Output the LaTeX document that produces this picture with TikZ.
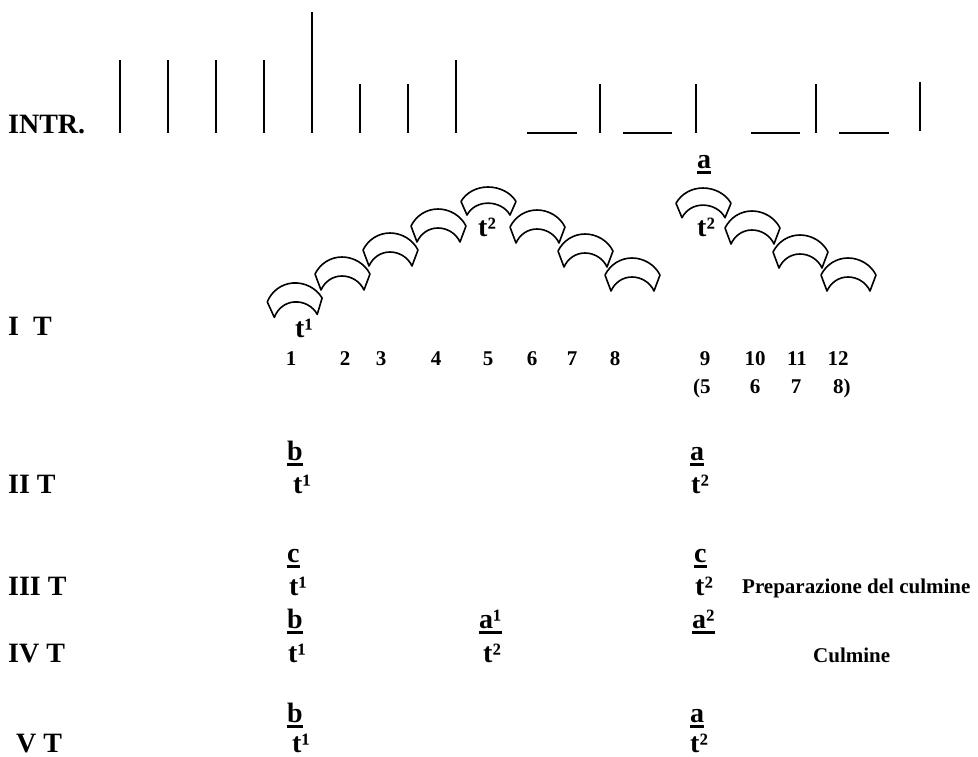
\documentclass[tikz,border=0pt]{standalone}
\usepackage{fontspec}
\setmainfont{Liberation Serif}
\newcommand\ulx[1]{\setbox0=\hbox{#1}\rlap{\rule[-5.5pt]{\wd0}{2.5pt}}\box0}
\tikzset{
  big/.style={font=\fontsize{28}{30}\selectfont\bfseries, inner sep=0pt, anchor=base west},
  small/.style={font=\fontsize{21}{24}\selectfont\bfseries, inner sep=0pt, anchor=base west},
  num/.style={font=\fontsize{21}{24}\selectfont\bfseries, inner sep=0pt, anchor=base},
  bar/.style={line width=2pt},
  arcband/.pic={\draw[line width=1.6pt, line join=round]
     (-27,17) .. controls (-21.8,6.6) and (-11.6,0) .. (0,0)
     .. controls (11.6,0) and (22.8,6.6) .. (28,17)
     -- (22,33) .. controls (18.2,24.5) and (9.3,19) .. (0,19)
     .. controls (-9.3,19) and (-17.2,24.5) .. (-21,33) -- cycle;}
}
\begin{document}
\begin{tikzpicture}[x=1pt,y=-1pt]
\useasboundingbox[fill=white] (0,0) rectangle (978,756);
% INTR row
\node[big] (intr) at (8,133) {INTR.};
\foreach \x in {120,168,216,264,456} \draw[bar] (\x,60) -- (\x,133);
\draw[bar] (312,12) -- (312,133);
\foreach \x in {360,408,600,696,816} \draw[bar] (\x,84) -- (\x,133);
\draw[bar] (920,82) -- (920,131);
\foreach \a/\b in {527/577,623/672,751/800,839/889} \draw[bar] (\a,133) -- (\b,133);
% arcs
\pic[rotate=4] at (293,283) {arcband};
\pic at (342,257) {arcband};
\pic at (390,233) {arcband};
\pic at (438,209) {arcband};
\pic[yscale=0.85] at (488,187) {arcband};
\pic at (537,210) {arcband};
\pic at (585,234) {arcband};
\pic at (632,258) {arcband};
\pic[yscale=0.9] at (703,188) {arcband};
\pic at (752,211) {arcband};
\pic at (800,235) {arcband};
\pic at (848,258) {arcband};
% I T
\node[big] (it) at (8,335) {I\hspace{14pt}T};
\node[big] (t1a) at (295,337) {t¹};
\node[big] (t2a) at (478,236) {t²};
\node[big] (aa) at (697,168) {\ulx{a}};
\node[big] (t2b) at (697,236) {t²};
% numbers
\foreach \x/\n in {291/1,345/2,381/3,436/4,488/5,532/6,572/7,615/8,705/9,755/10,797/11,838/12}
  \node[num] (n\n) at (\x,365) {\n};
\node[small] (p5) at (693,393) {(5};
\node[num] (p6) at (755,393) {6};
\node[num] (p7) at (796,393) {7};
\node[small] (p8) at (833,393) {8)};
% II T
\node[big] (iit) at (8,493) {II T};
\node[big] (iib) at (287,460) {\ulx{b}};
\node[big] (iit1) at (293,493) {t¹};
\node[big] (iia) at (690,460) {\ulx{a}};
\node[big] (iit2) at (691,493) {t²};
% III T
\node[big] (iiit) at (8,595) {III T};
\node[big] (iiic) at (287,562) {\ulx{c}};
\node[big] (iiit1) at (289,595) {t¹};
\node[big] (iiic2) at (694,562) {\ulx{c}};
\node[big] (iiit2) at (695,595) {t²};
\node[small] (prep) at (742,593) {Preparazione del culmine};
% IV T
\node[big] (ivt) at (8,662) {IV T};
\node[big] (ivb) at (287,628) {\ulx{b}};
\node[big] (ivt1) at (288,662) {t¹};
\node[big] (iva1) at (479,628) {\ulx{a¹}};
\node[big] (ivt2) at (483,662) {t²};
\node[big] (iva2) at (692,628) {\ulx{a²}};
\node[small] (culm) at (813,662) {Culmine};
% V T
\node[big] (vt) at (16,752) {V T};
\node[big] (vb) at (287,722) {\ulx{b}};
\node[big] (vt1) at (292,752) {t¹};
\node[big] (va) at (690,722) {\ulx{a}};
\node[big] (vt2) at (690,752) {t²};
\end{tikzpicture}
\end{document}
